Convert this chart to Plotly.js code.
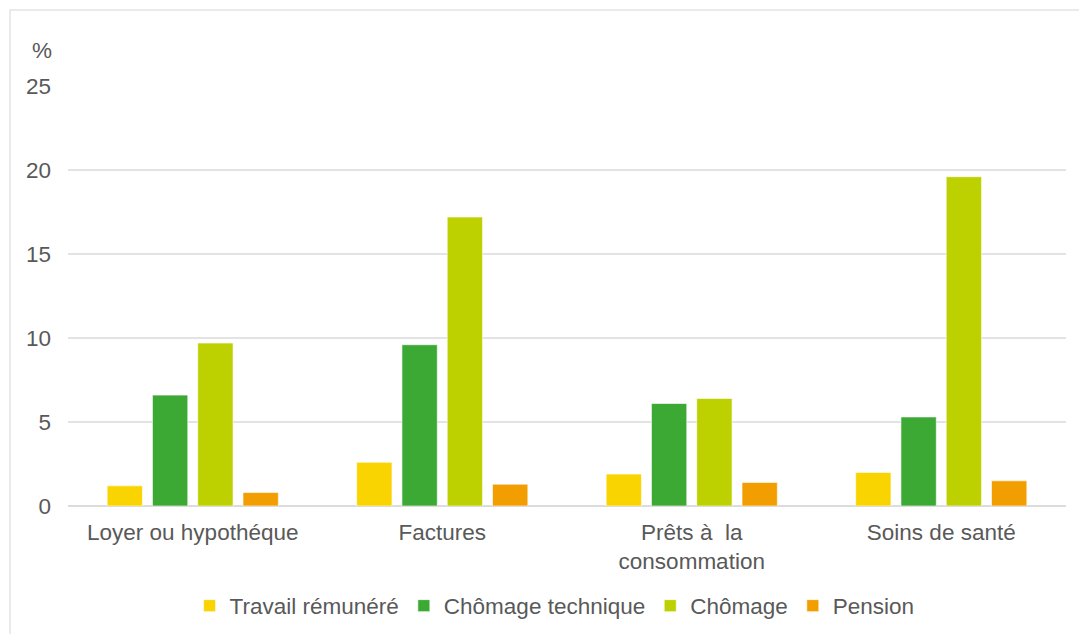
<!DOCTYPE html>
<html>
<head>
<meta charset="utf-8">
<script src="https://cdn.plot.ly/plotly-3.0.1.min.js"></script>
<style>
  html, body { margin: 0; padding: 0; background: #ffffff; }
  #chart { width: 1079px; height: 634px; }
</style>
</head>
<body>
<div id="chart"></div>
<script>
// Categories of expenses
const categories = ["Loyer ou hypothéque", "Factures", "Prêts à\u00a0 la<br>consommation", "Soins de santé"];

// Share (%) by situation
const travailRemunere = [1.2, 2.6, 1.9, 2.0];
const chomageTechnique = [6.6, 9.6, 6.1, 5.3];
const chomage = [9.7, 17.2, 6.4, 19.6];
const pension = [0.8, 1.3, 1.4, 1.5];

const seriesNames = ["Travail rémunéré", "Chômage technique", "Chômage", "Pension"];
const seriesColors = ["#FAD400", "#3CA935", "#BDD000", "#F29E00"];
const seriesValues = [travailRemunere, chomageTechnique, chomage, pension];

const yTicks = [0, 5, 10, 15, 20, 25];

const traces = seriesValues.map((vals, i) => ({
  type: "bar",
  name: seriesNames[i],
  x: categories,
  y: vals,
  marker: {
    color: seriesColors[i],
    line: { color: "rgba(255,255,255,0.6)", width: 1 }
  },
  hoverinfo: "x+y+name"
}));

const textColor = "#595959";
const font = { family: "Liberation Sans, Arial, sans-serif", size: 22.5, color: textColor };

// Plot area geometry
const mL = 68, mR = 13, mT = 86, mB = 128;
const W = 1079, H = 634;
const plotW = W - mL - mR;
const plotH = H - mT - mB;

const layout = {
  width: W,
  height: H,
  paper_bgcolor: "#ffffff",
  plot_bgcolor: "#ffffff",
  margin: { l: mL, r: mR, t: mT, b: mB, autoexpand: false },
  font: font,
  barmode: "group",
  bargap: 0.274,
  bargroupgap: 0.22,
  showlegend: true,
  legend: {
    orientation: "h",
    xref: "container",
    yref: "container",
    x: 0.514,
    xanchor: "center",
    y: 1 - 606 / H,
    yanchor: "middle",
    font: font,
    itemwidth: 30,
    traceorder: "normal"
  },
  xaxis: {
    type: "category",
    showgrid: false,
    showline: false,
    zeroline: false,
    ticks: "",
    ticklabelstandoff: 10,
    tickfont: font,
    automargin: false,
    fixedrange: true
  },
  yaxis: {
    range: [0, 25],
    tickvals: yTicks,
    ticktext: yTicks.map(String),
    showgrid: true,
    gridcolor: "#E3E3E3",
    gridwidth: 1.5,
    zeroline: true,
    zerolinecolor: "#DCDCDC",
    zerolinewidth: 2,
    showline: false,
    ticks: "",
    ticklabelstandoff: 16,
    tickfont: font,
    automargin: false,
    fixedrange: true
  },
  annotations: [{
    text: "%",
    xref: "paper",
    yref: "paper",
    x: (42 - mL) / plotW,
    y: (506 - 50) / plotH,
    xanchor: "center",
    yanchor: "middle",
    showarrow: false,
    font: font
  }],
  shapes: [{
    // light frame around the figure
    type: "rect",
    xref: "paper",
    yref: "paper",
    x0: (10 - mL) / plotW,
    x1: (1090 - mL) / plotW,
    y0: (506 - 640) / plotH,
    y1: (506 - 10) / plotH,
    line: { color: "#E3E3E3", width: 1.5 },
    fillcolor: "rgba(0,0,0,0)",
    layer: "below"
  }]
};

Plotly.newPlot("chart", traces, layout, { displayModeBar: false, staticPlot: true });
</script>
</body>
</html>
